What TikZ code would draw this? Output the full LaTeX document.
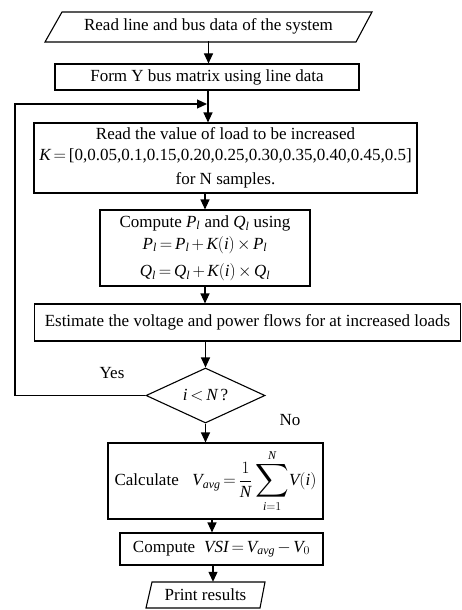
\documentclass[tikz,border=0pt]{standalone}
\usepackage{amsmath}
\usepackage{fontspec}
\setmainfont{Liberation Serif}
\usetikzlibrary{arrows.meta,shapes.geometric}
\newcommand{\vi}[1]{\textit{#1}}
\thickmuskip=3mu plus 1mu
\medmuskip=2.5mu plus 1mu
\begin{document}
\begin{tikzpicture}[x=1pt,y=-1pt,
  every node/.style={font=\fontsize{17}{21}\selectfont},
  box/.style={draw,line width=1.1pt,rectangle,inner sep=2pt,align=center},
  plain/.style={inner sep=2pt,align=center},
  outline/.style={draw,line width=1.1pt},
  arr/.style={line width=1.1pt,-{Triangle[length=10pt,width=9pt]}}]
\useasboundingbox (0,0) rectangle (462,610);
% input parallelogram
\draw[outline] (62,12) -- (372,12) -- (356,42) -- (45,42) -- cycle;
\node[plain,minimum width=327pt,minimum height=30pt] (p1) at (208.5,26) {Read line and bus data of the system};
\node[box,minimum width=304pt,minimum height=26pt] (b2) at (207,77) {Form Y bus matrix using line data};
\node[box,minimum width=383pt,minimum height=70pt] (b3) at (225.5,158)
  {Read the value of load to be increased\\
   $\vi{K}=\text{[0,0.05,0.1,0.15,0.20,0.25,0.30,0.35,0.40,0.45,0.5]}$\\[3pt]
   for N samples.};
\node[box,minimum width=210pt,minimum height=76pt] (b4) at (205,248)
  {Compute $\vi{P}_{\vi{l}}$ and $\vi{Q}_{\vi{l}}$ using\\[1pt]
   $\vi{P}_{\vi{l}}=\vi{P}_{\vi{l}}+\vi{K}(\vi{i})\times \vi{P}_{\vi{l}}$\\[6pt]
   $\vi{Q}_{\vi{l}}=\vi{Q}_{\vi{l}}+\vi{K}(\vi{i})\times \vi{Q}_{\vi{l}}$};
\node[box,minimum width=426pt,minimum height=37pt] (b5) at (247.5,322.5)
  {Estimate the voltage and power flows for at increased loads};
\node[draw,line width=1.1pt,diamond,aspect=2.16,inner sep=0pt,minimum width=119pt,minimum height=55pt] (d) at (205.5,395.5) {$\vi{i}<\vi{N}$\,?};
\node[box,minimum width=215pt,minimum height=76pt] (b6) at (215.5,481)
  {Calculate\;\; $\displaystyle \vi{V}_{\vi{avg}}=\frac{1}{\vi{N}}\mathop{\vcenter{\hbox{\scalebox{1.35}{$\displaystyle\sum$}}}}\limits_{\vi{i}=1}^{\vi{N}}\!\vi{V}(\vi{i})$};
\node[box,minimum width=203pt,minimum height=32pt] (b7) at (221.5,549)
  {Compute\; $\vi{VSI}=\vi{V}_{\vi{avg}}-\vi{V}_{0}$};
\draw[outline] (152,582) -- (265,582) -- (260,608) -- (146,608) -- cycle;
\node[plain,minimum width=119pt,minimum height=26pt] (p2) at (205.5,595) {Print results};
\node[plain] (yes) at (112,373) {Yes};
\node[plain] (no) at (290,420) {No};
% connectors
\coordinate (jn) at (208,104);
\coordinate (lx) at (15,0);
\coordinate (c67) at (212,0);
\coordinate (c7p) at (213,0);
\draw[arr] (p1.south) -- (p1.south |- b2.north);
\draw[arr] (b2.south -| jn) -- (b3.north -| jn);
\draw[arr] (b3.south -| b4.north) -- (b4.north);
\draw[arr] (b4.south) -- (b4.south |- b5.north);
\draw[arr] (b5.south -| d.north) -- (d.north);
\draw[arr] (d.south) -- (d.south |- b6.north);
\draw[arr] (b6.south -| c67) -- (b7.north -| c67);
\draw[arr] (b7.south -| c7p) -- (p2.north -| c7p);
\draw[arr] (d.west) -- (d.west -| lx) |- ([xshift=-1pt]jn);
\end{tikzpicture}
\end{document}
